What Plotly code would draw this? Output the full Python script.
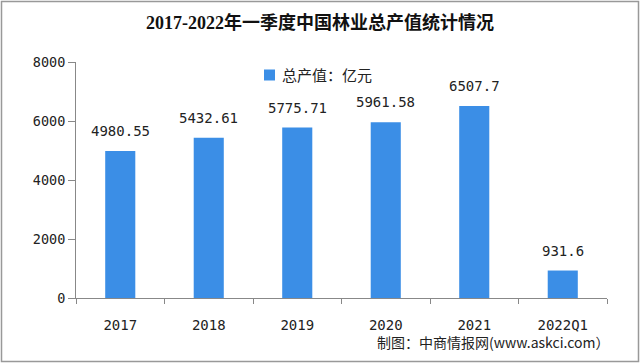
import plotly.graph_objects as go

categories = ["2017", "2018", "2019", "2020", "2021", "2022Q1"]
values = [4980.55, 5432.61, 5775.71, 5961.58, 6507.7, 931.6]
value_labels = ["4980.55", "5432.61", "5775.71", "5961.58", "6507.7", "931.6"]
y_ticks = [0, 2000, 4000, 6000, 8000]
series_name = "总产值：亿元"

W, H = 640, 363
ml, mr, mt, mb = 76, 33, 62, 65
BAR = "#3b8ee6"
MONO = "DejaVu Sans Mono"

fig = go.Figure()
fig.add_trace(go.Bar(
    x=categories, y=values, name=series_name,
    marker=dict(color=BAR, line=dict(width=0)),
    width=0.34, showlegend=False,
))

for i, (v, t) in enumerate(zip(values, value_labels)):
    fig.add_annotation(x=i, y=v, text=t, showarrow=False, xanchor="center",
                       yanchor="bottom", yshift=10,
                       font=dict(size=14, color="#222", family=MONO))

fig.update_layout(
    width=W, height=H,
    margin=dict(l=ml, r=mr, t=mt, b=mb),
    paper_bgcolor="white", plot_bgcolor="white",
    title=dict(text="<b>2017-2022年一季度中国林业总产值统计情况</b>",
               x=0.5, xanchor="center", y=1 - 23 / H, yanchor="middle",
               font=dict(size=18, color="#111", family="Liberation Serif, Noto Sans CJK SC")),
    showlegend=False,
    font=dict(family="Noto Sans CJK SC", color="#222"),
)

fig.update_xaxes(
    type="category", tickson="boundaries", range=[-0.5, len(categories) - 0.5],
    showline=True, linecolor="#888", linewidth=1,
    ticks="outside", ticklen=5, tickcolor="#888",
    ticklabelstandoff=14,
    tickfont=dict(size=14, color="#222", family=MONO),
    showgrid=False,
)
fig.update_yaxes(
    range=[0, 8000], tickvals=y_ticks,
    showline=True, linecolor="#888", linewidth=1,
    ticks="outside", ticklen=7, tickcolor="#888",
    tickfont=dict(size=13.5, color="#222", family=MONO),
    showgrid=False, zeroline=False,
)

pw, ph = W - ml - mr, H - mt - mb
def px_x(x): return (x - ml) / pw
def px_y(y): return (H - mb - y) / ph

# legend (square marker + label)
fig.add_shape(type="rect", xref="paper", yref="paper",
              x0=px_x(264), x1=px_x(275), y0=px_y(80.5), y1=px_y(69.5),
              line=dict(width=0), fillcolor=BAR)
fig.add_annotation(text=series_name, xref="paper", yref="paper",
                   x=px_x(280), y=px_y(75), xanchor="left", yanchor="middle",
                   showarrow=False, font=dict(size=15, color="#222", family="Noto Sans CJK SC"))

# outer frame
fig.add_shape(type="rect", xref="paper", yref="paper",
              x0=px_x(1.5), x1=px_x(W - 1.5), y0=px_y(H - 1.5), y1=px_y(1.5),
              line=dict(color="#999", width=1.5), fillcolor="rgba(0,0,0,0)", layer="above")

fig.add_annotation(text="制图：中商情报网(www.askci.com）", xref="paper", yref="paper",
                   x=px_x(612), y=px_y(342), xanchor="right", yanchor="middle",
                   showarrow=False, font=dict(size=14, color="#222", family="Noto Sans CJK SC"))

fig.write_html("out.html", config={"displayModeBar": False},
               post_script="document.body.style.margin='0';")
